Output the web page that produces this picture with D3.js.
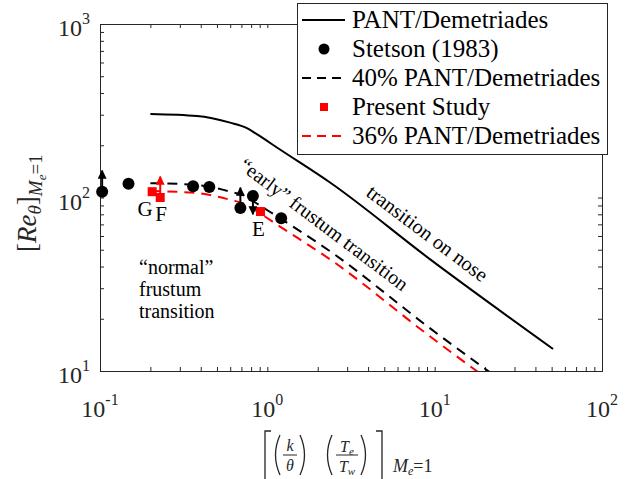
<!DOCTYPE html>
<html>
<head>
<meta charset="utf-8">
<script src="https://cdn.jsdelivr.net/npm/d3@7"></script>
<style>
body{margin:0;background:#fff}
text{font-family:"Liberation Serif","DejaVu Serif",serif}
</style>
</head>
<body>
<div id="chart"></div>
<script>
// PANT/Demetriades curve and the scaled copies
const pantX = [0.2, 0.38, 0.6, 0.75, 0.87, 1.19, 2.37, 9.4, 51]
const pantY = [303, 295, 270, 252, 231, 189, 122, 44, 13.4]
const pant40Y = [121, 118, 108, 101, 92, 76, 49, 17.6, 5.4]
const pant36Y = [109, 106, 97, 91, 83, 68, 44, 15.8, 4.8]

// Stetson (1983) points, arrows = bound direction
const stetsonX = [0.103, 0.148, 0.36, 0.45, 0.69, 0.82, 1.21]
const stetsonY = [108, 120, 116, 115, 87, 102, 76]
const stetsonArrowTo = [143, null, null, null, 114, 80, null]

// Present study
const presentX = [0.205, 0.229, 0.91]
const presentY = [108, 100, 83]
const presentArrowTo = [null, 132, null]
const presentLabels = ['G', 'F', 'E']

const xTicks = [0.1, 1, 10, 100]
const xTickExp = ['-1', '0', '1', '2']
const yTicks = [10, 100, 1000]
const yTickExp = ['1', '2', '3']

const legendNames = ['PANT/Demetriades', 'Stetson (1983)', '40% PANT/Demetriades', 'Present Study', '36% PANT/Demetriades']

const W = 635, H = 479
const m = {left: 100, right: 602, top: 24, bottom: 371}

const svg = d3.select('#chart').append('svg')
    .attr('width', W).attr('height', H)
    .style('display', 'block')

const x = d3.scaleLog().domain([0.1, 100]).range([m.left, m.right])
const y = d3.scaleLog().domain([10, 1000]).range([m.bottom, m.top])

const defs = svg.append('defs')
defs.append('clipPath').attr('id', 'clip')
    .append('rect').attr('x', m.left).attr('y', m.top)
    .attr('width', m.right - m.left).attr('height', m.bottom - m.top)

function arrowMarker(id, col){
    defs.append('marker').attr('id', id)
        .attr('markerUnits', 'userSpaceOnUse')
        .attr('viewBox', '0 0 10 10').attr('refX', 9).attr('refY', 5)
        .attr('markerWidth', 9).attr('markerHeight', 9)
        .attr('orient', 'auto')
        .append('path').attr('d', 'M0,0 L10,5 L0,10 Z').attr('fill', col)
}
arrowMarker('arrK', '#000')
arrowMarker('arrR', '#f00')

// axes (ticks inward, box on)
const axCol = '#262626'
const minorX = x.ticks()
const minorY = y.ticks()

function drawAxis(gen, tr, vals){
    const g = svg.append('g').attr('transform', tr)
        .call(gen.tickValues(vals).tickSize(-4).tickFormat(''))
    g.select('.domain').attr('stroke', axCol)
    g.selectAll('.tick line').attr('stroke', axCol)
    return g
}
drawAxis(d3.axisBottom(x), `translate(0,${m.bottom})`, minorX)
drawAxis(d3.axisTop(x), `translate(0,${m.top})`, minorX)
drawAxis(d3.axisLeft(y), `translate(${m.left},0)`, minorY)
drawAxis(d3.axisRight(y), `translate(${m.right},0)`, minorY)

// tick labels 10^n
xTicks.forEach((v, i) => {
    const t = svg.append('text').attr('x', x(v)).attr('y', 417)
        .attr('text-anchor', 'middle').attr('font-size', 24).attr('fill', axCol)
    t.append('tspan').text('10')
    t.append('tspan').attr('dy', -12).attr('font-size', 16).text(xTickExp[i])
})
yTicks.forEach((v, i) => {
    const t = svg.append('text').attr('x', 90).attr('y', y(v) + 12)
        .attr('text-anchor', 'end').attr('font-size', 24).attr('fill', axCol)
    t.append('tspan').text('10')
    t.append('tspan').attr('dy', -12).attr('font-size', 16).text(yTickExp[i])
})

// lines
const line = d3.line().x(d => x(d[0])).y(d => y(d[1])).curve(d3.curveMonotoneX)
const plot = svg.append('g').attr('clip-path', 'url(#clip)')

plot.append('path').datum(d3.zip(pantX, pant40Y)).attr('d', line)
    .attr('fill', 'none').attr('stroke', '#000').attr('stroke-width', 2)
    .attr('stroke-dasharray', '10,7')
plot.append('path').datum(d3.zip(pantX, pant36Y)).attr('d', line)
    .attr('fill', 'none').attr('stroke', '#f00').attr('stroke-width', 2)
    .attr('stroke-dasharray', '10,7')
svg.append('path').datum(d3.zip(pantX, pantY)).attr('d', line)
    .attr('fill', 'none').attr('stroke', '#000').attr('stroke-width', 2)

// present study squares
const pres = d3.zip(presentX, presentY, presentArrowTo)
svg.selectAll('.sq').data(pres).join('rect')
    .attr('x', d => x(d[0]) - 4.5).attr('y', d => y(d[1]) - 4.5)
    .attr('width', 9).attr('height', 9).attr('fill', '#f00')
svg.selectAll('.arr-r').data(pres.filter(d => d[2] != null)).join('line')
    .attr('x1', d => x(d[0])).attr('y1', d => y(d[1]))
    .attr('x2', d => x(d[0])).attr('y2', d => y(d[2]))
    .attr('stroke', '#f00').attr('stroke-width', 2).attr('marker-end', 'url(#arrR)')

// stetson circles
const stet = d3.zip(stetsonX, stetsonY, stetsonArrowTo)
svg.selectAll('.dot').data(stet).join('circle')
    .attr('cx', d => x(d[0])).attr('cy', d => y(d[1])).attr('r', 6).attr('fill', '#000')
svg.selectAll('.arr-k').data(stet.filter(d => d[2] != null)).join('line')
    .attr('x1', d => x(d[0])).attr('y1', d => y(d[1]))
    .attr('x2', d => x(d[0])).attr('y2', d => y(d[2]))
    .attr('stroke', '#000').attr('stroke-width', 2).attr('marker-end', 'url(#arrK)')

// G F E labels
const labOff = [[-7, 24], [1, 23], [-2, 24]]
presentLabels.forEach((s, i) => {
    svg.append('text').attr('x', x(presentX[i]) + labOff[i][0]).attr('y', y(presentY[i]) + labOff[i][1])
        .attr('text-anchor', 'middle').attr('font-size', 21).text(s)
})

// annotations
const note = svg.append('text').attr('font-size', 20)
;['\u201cnormal\u201d', 'frustum', 'transition'].forEach((s, i) => {
    note.append('tspan').attr('x', 139).attr('y', 274 + i * 22).text(s)
})
svg.append('text').attr('font-size', 20)
    .attr('transform', 'translate(238,168) rotate(37)')
    .text('\u201cearly\u201d frustum transition')
svg.append('text').attr('font-size', 20.5)
    .attr('transform', 'translate(365,195) rotate(37)')
    .text('transition on nose')

// y label
const yl = svg.append('text').attr('transform', 'translate(36,252) rotate(-90)')
    .attr('font-size', 27).attr('fill', axCol)
yl.append('tspan').text('[')
yl.append('tspan').attr('font-style', 'italic').text('Re')
yl.append('tspan').attr('font-style', 'italic').attr('font-size', 19).attr('dy', 5).text('\u03b8')
yl.append('tspan').attr('dy', -5).text(']')
yl.append('tspan').attr('font-style', 'italic').attr('font-size', 19).attr('dy', 6).text('M')
yl.append('tspan').attr('font-style', 'italic').attr('font-size', 13).attr('dy', 4).text('e')
yl.append('tspan').attr('font-size', 19).attr('dy', -4).text('=1')

// x label
const xl = svg.append('g').attr('stroke', axCol).attr('fill', 'none').attr('stroke-width', 1.3)
xl.append('path').attr('d', 'M271,431 H265 V480 H271')
xl.append('path').attr('d', 'M376,431 H382 V480 H376')
xl.append('path').attr('d', 'M280,435 Q271,455 280,475')
xl.append('path').attr('d', 'M300,435 Q309,455 300,475')
xl.append('path').attr('d', 'M332,435 Q323,455 332,475')
xl.append('path').attr('d', 'M361,435 Q370,455 361,475')
xl.append('line').attr('x1', 283).attr('x2', 297).attr('y1', 455).attr('y2', 455).attr('stroke-width', 1)
xl.append('line').attr('x1', 336).attr('x2', 358).attr('y1', 455).attr('y2', 455).attr('stroke-width', 1)
const xt = svg.append('g').attr('fill', axCol).attr('font-style', 'italic').attr('text-anchor', 'middle')
xt.append('text').attr('x', 290).attr('y', 451).attr('font-size', 16).text('k')
xt.append('text').attr('x', 290).attr('y', 471).attr('font-size', 16).text('\u03b8')
const te = xt.append('text').attr('x', 347).attr('y', 452).attr('font-size', 16)
te.append('tspan').text('T')
te.append('tspan').attr('font-size', 11).attr('dy', 3).text('e')
const tw = xt.append('text').attr('x', 347).attr('y', 472).attr('font-size', 16)
tw.append('tspan').text('T')
tw.append('tspan').attr('font-size', 11).attr('dy', 3).text('w')
const ms = svg.append('text').attr('x', 393).attr('y', 472).attr('font-size', 18).attr('fill', axCol)
ms.append('tspan').attr('font-style', 'italic').text('M')
ms.append('tspan').attr('font-style', 'italic').attr('font-size', 12).attr('dy', 3).text('e')
ms.append('tspan').attr('dy', -3).text('=1')

// legend
const lg = svg.append('g')
lg.append('rect').attr('x', 297.5).attr('y', 3.5).attr('width', 310).attr('height', 151)
    .attr('fill', '#fff').attr('stroke', axCol).attr('stroke-width', 1)
legendNames.forEach((s, i) => {
    const by = 28 + i * 29, cy = by - 8
    if (i === 0 || i === 2 || i === 4) {
        lg.append('line').attr('x1', 302).attr('x2', 345).attr('y1', cy).attr('y2', cy)
            .attr('stroke', i === 4 ? '#f00' : '#000').attr('stroke-width', 2)
            .attr('stroke-dasharray', i === 0 ? null : '9,6')
    } else if (i === 1) {
        lg.append('circle').attr('cx', 324).attr('cy', cy).attr('r', 5.5).attr('fill', '#000')
    } else {
        lg.append('rect').attr('x', 320).attr('y', cy - 4).attr('width', 8).attr('height', 8).attr('fill', '#f00')
    }
    lg.append('text').attr('x', 352).attr('y', by).attr('font-size', 25).text(s)
})
</script>
</body>
</html>
